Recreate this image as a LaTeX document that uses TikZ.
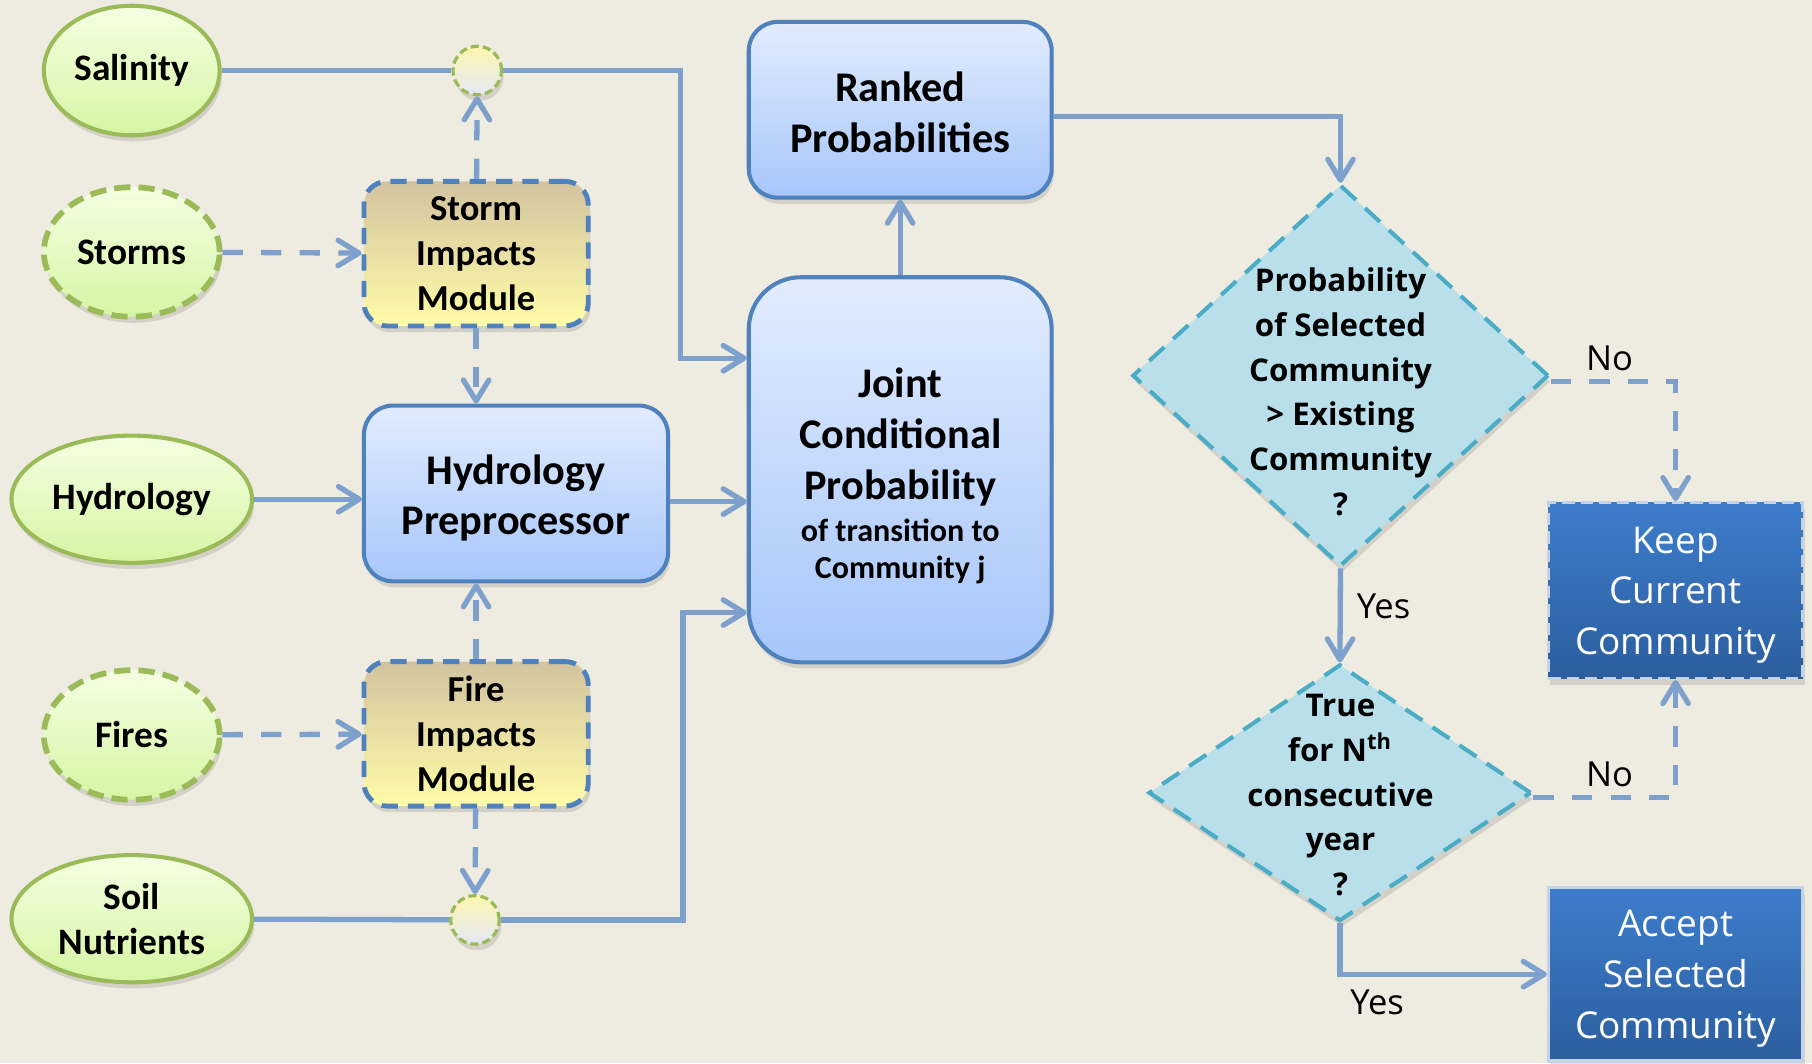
\documentclass[tikz,border=0pt]{standalone}
\usepackage{fontspec}
\setmainfont{Carlito}
\newfontfamily\opensans{Open Sans}
\usepackage{xcolor}
\usepackage{tikz}
\usetikzlibrary{arrows.meta, positioning, calc, shapes.geometric, shadows}

\definecolor{bgbeige}{HTML}{EEEBE0}
\definecolor{linkblue}{HTML}{7DA0CC}
\definecolor{ellgreen}{HTML}{9BBB59}
\definecolor{ellTop}{HTML}{F4FFE2}
\definecolor{ellBot}{HTML}{D6F5A4}
\definecolor{juncTop}{HTML}{FFF6B0}
\definecolor{juncBot}{HTML}{E4E8F6}
\definecolor{modTop}{HTML}{D2C39F}
\definecolor{modBot}{HTML}{FFFCA8}
\definecolor{boxedge}{HTML}{4F81BD}
\definecolor{boxTop}{HTML}{E2ECFF}
\definecolor{boxBot}{HTML}{A6C6FA}
\definecolor{tealedge}{HTML}{4BACC6}
\definecolor{diaFill}{HTML}{B9E0EA}
\definecolor{outTop}{HTML}{3D7DCC}
\definecolor{outBot}{HTML}{2C5E9E}
\definecolor{outEdge}{HTML}{C4D3E8}

\tikzset{
  softshadow/.style={drop shadow={shadow xshift=0.5pt, shadow yshift=-1.5pt, opacity=0.25}},
  inell/.style={ellipse, draw=ellgreen, line width=1pt, top color=ellTop, bottom color=ellBot,
    minimum width=1.52cm, minimum height=1.12cm, inner sep=1pt, align=center,
    font=\fontsize{9.2}{11.1}\selectfont\bfseries, softshadow},
  inelldash/.style={inell, line width=1.4pt, dash pattern=on 4pt off 2pt},
  junc/.style={ellipse, draw=ellgreen, line width=0.8pt, dash pattern=on 2pt off 1pt,
    top color=juncTop, bottom color=juncBot, minimum width=0.42cm, minimum height=0.42cm,
    inner sep=0pt, softshadow},
  module/.style={rectangle, rounded corners=0.2cm, draw=boxedge, line width=1.2pt,
    dash pattern=on 4pt off 2.5pt, top color=modTop, bottom color=modBot,
    minimum width=1.94cm, minimum height=1.25cm, align=center,
    font=\fontsize{9}{11}\selectfont\bfseries, softshadow},
  procbox/.style={rectangle, rounded corners=0.25cm, draw=boxedge, line width=1pt,
    top color=boxTop, bottom color=boxBot, softshadow},
  boxtext/.style={align=center, font=\fontsize{10.4}{12.5}\selectfont\bfseries},
  decision/.style={diamond, draw=tealedge, line width=1pt, dash pattern=on 5pt off 3pt,
    fill=diaFill, inner sep=0pt, softshadow},
  dectext/.style={align=center, font=\opensans\fontsize{7.7}{11}\selectfont\bfseries},
  outbox/.style={rectangle, top color=outTop, bottom color=outBot, draw=outEdge, line width=0.8pt,
    minimum width=2.2cm, minimum height=1.52cm, softshadow},
  outtext/.style={align=center, text=white, font=\opensans\fontsize{9.1}{12.5}\selectfont},
  lbl/.style={inner sep=2pt, font=\opensans\fontsize{8.5}{10}\selectfont},
  wire/.style={draw=linkblue, line width=1.3pt},
  link/.style={wire, -{Straight Barb[length=1.8mm, width=2.2mm, round]}},
  dlink/.style={link, dash pattern=on 5pt off 4.5pt}
}

\begin{document}
\begin{tikzpicture}[x=0.01cm, y=-0.01cm]
\useasboundingbox (0,0) rectangle (1568,920);
\fill[bgbeige] (0,0) rectangle (1568,920);

% Drivers
\node[inell] (sal) at (114,61) {Salinity};
\node[inelldash] (stm) at (114,218) {Storms};
\node[inell, minimum width=2.08cm, minimum height=1.1cm] (hyd) at (114,432) {Hydrology};
\node[inelldash] (fir) at (114,636) {Fires};
\node[inell, minimum width=2.08cm, minimum height=1.1cm] (soil) at (114,795) {Soil\\Nutrients};

% Junctions
\node[junc] (j1) at (413,61) {};
\node[junc] (j2) at (411,796) {};

% Impact modules and preprocessor
\node[module] (smod) at (412,219.5) {Storm\\Impacts\\Module};
\node[module] (fmod) at (412,635) {Fire\\Impacts\\Module};
\node[procbox, minimum width=2.63cm, minimum height=1.52cm] (hpre) at (446.5,427) {};
\node[boxtext] (hpretxt) at (446.5,431) {Hydrology\\Preprocessor};

% Probabilities
\node[procbox, minimum width=2.62cm, minimum height=1.52cm] (ranked) at (779,95) {};
\node[boxtext] (rankedtxt) at (779,97) {Ranked\\Probabilities};
\node[procbox, rounded corners=0.45cm, minimum width=2.62cm, minimum height=3.33cm] (joint) at (779,406.5) {};
\node[boxtext] (jointtxt) at (779,412)
  {Joint\\Conditional\\Probability\\[-2.2pt]{\fontsize{7.9}{9.4}\selectfont of transition to}\\[-3.2pt]{\fontsize{7.9}{9.4}\selectfont Community j}};

% Decisions
\node[decision, minimum width=3.6cm, minimum height=3.3cm] (d1) at (1160,325) {};
\node[dectext] (d1txt) at (1160,339) {Probability\\of Selected\\Community\\> Existing\\Community\\?};
\node[decision, minimum width=3.31cm, minimum height=2.22cm] (d2) at (1159.5,686) {};
\node[dectext] (d2txt) at (1160,688) {True\\for N\textsuperscript{th}\\consecutive\\year\\?};

% Outcomes
\node[outbox, dash pattern=on 3pt off 1.5pt] (keep) at (1450,511) {};
\node[outtext] (keeptxt) at (1450,515) {Keep\\Current\\Community};
\node[outbox, minimum height=1.5cm] (accept) at (1450,843) {};
\node[outtext] (accepttxt) at (1450,847) {Accept\\Selected\\Community};

% Connectors on the left
\draw[wire] (sal) -- (j1);
\draw[link] (j1) -- (589,61) |- ([yshift=0.965cm]joint.west);
\draw[dlink] (stm) -- (smod);
\draw[dlink] (smod) -- (j1);
\draw[dlink] (smod.south) -- (smod.south |- hpre.north);
\draw[link] (hyd) -- (hpre.west |- hyd.east);
\draw[link] ([yshift=-0.07cm]hpre.east) -- ([yshift=-0.07cm]hpre.east -| joint.west);
\draw[dlink] (fir) -- (fmod);
\draw[dlink] (fmod.north) -- (fmod.north |- hpre.south);
\draw[dlink] (fmod) -- (j2);
\draw[wire] (soil) -- (j2);
\draw[link] (j2) -- (591,796) |- ([yshift=-1.235cm]joint.west);

% Connectors on the right
\draw[link] (joint) -- (ranked);
\draw[link] ([yshift=-0.06cm]ranked.east) -| (d1.north);
\draw[link] (d1.south) -- node[lbl, right=0.05cm, pos=0.4] (yes1) {Yes} (d2.north);
\draw[dlink] ([yshift=-0.05cm]d1.east) -| node[lbl, above, pos=0.236] (no1) {No} (keep.north);
\draw[dlink] ([yshift=-0.04cm]d2.east) -| node[lbl, above, pos=0.268] (no2) {No} (keep.south);
\draw[link] (d2.south) |- node[lbl, below=0.04cm, pos=0.59] (yes2) {Yes} (accept.west);
\end{tikzpicture}
\end{document}
